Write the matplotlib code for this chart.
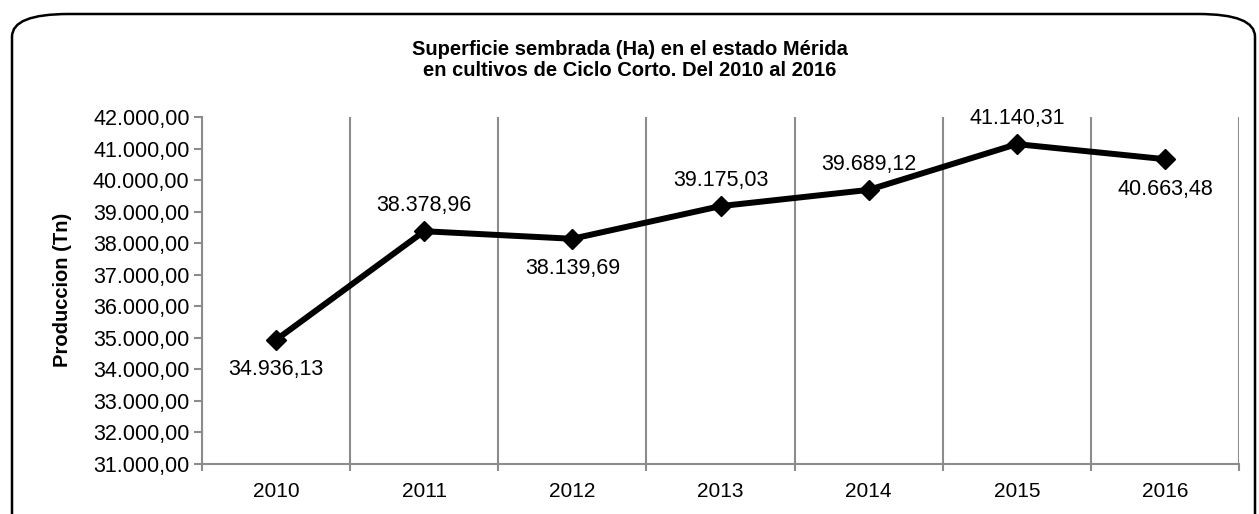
import matplotlib
matplotlib.use('Agg')
import matplotlib.pyplot as plt
from matplotlib.patches import FancyBboxPatch

# Superficie sembrada, ciclo corto, Merida
years = ['2010', '2011', '2012', '2013', '2014', '2015', '2016']
values = [34936.13, 38378.96, 38139.69, 39175.03, 39689.12, 41140.31, 40663.48]
label_pos = ['below', 'above', 'below', 'above', 'above', 'above', 'below']

plt.rcParams['font.family'] = ['Liberation Sans', 'DejaVu Sans']


def fmt_es(v, pos=None):
    s = f'{v:,.2f}'
    return s.replace(',', '#').replace('.', ',').replace('#', '.')


fig = plt.figure(figsize=(12.59, 5.14), dpi=100)
ax = fig.add_axes([202 / 1259, 50 / 514, 1037 / 1259, 347 / 514])

xs = [i + 0.5 for i in range(len(years))]
ax.plot(xs, values, color='black', lw=4.3, marker='D', markersize=10.5,
        markerfacecolor='black', zorder=3)

for x, v, p in zip(xs, values, label_pos):
    if p == 'above':
        ax.annotate(fmt_es(v), (x, v), textcoords='offset points', xytext=(0, 11),
                    ha='center', va='bottom', fontsize=15.5)
    else:
        ax.annotate(fmt_es(v), (x, v), textcoords='offset points', xytext=(0, -14),
                    ha='center', va='top', fontsize=15.5)

ax.set_xlim(0, 7)
ax.set_ylim(31000, 42000)
ax.set_yticks(range(31000, 42001, 1000))
ax.yaxis.set_major_formatter(plt.FuncFormatter(fmt_es))
ax.set_xticks(xs)
ax.set_xticklabels(years)
ax.set_xticks(range(8), minor=True)
ax.tick_params(axis='x', which='major', length=0, pad=13, labelsize=15)
ax.tick_params(axis='x', which='minor', length=5, width=1.5, color='#8c8c8c')
ax.tick_params(axis='y', length=6, width=1.5, color='#8c8c8c', labelsize=15.5, pad=3)
ax.grid(which='minor', axis='x', color='#8c8c8c', lw=1.5)
ax.set_axisbelow(True)

for side in ['top', 'right']:
    ax.spines[side].set_visible(False)
for side in ['left', 'bottom']:
    ax.spines[side].set_color('#8c8c8c')
    ax.spines[side].set_linewidth(1.5)

fig.text(0.5, 1 - 60 / 514, 'Superficie sembrada (Ha) en el estado Mérida\nen cultivos de Ciclo Corto. Del 2010 al 2016',
         ha='center', va='center', fontsize=14.5, fontweight='bold', linespacing=1.1)
fig.text(62 / 1259, 1 - 290 / 514, 'Produccion (Tn)', rotation=90, ha='center', va='center',
         fontsize=14.5, fontweight='bold')

box = FancyBboxPatch((12 / 1259, -0.05), 1243 / 1259, 1.0 - 14 / 514 + 0.05,
                     boxstyle='round,pad=0,rounding_size=0.045', transform=fig.transFigure,
                     fill=False, edgecolor='black', lw=1.8, mutation_aspect=514 / 1259 * 2.4)
fig.patches.append(box)

fig.savefig('out.png', dpi=100)
